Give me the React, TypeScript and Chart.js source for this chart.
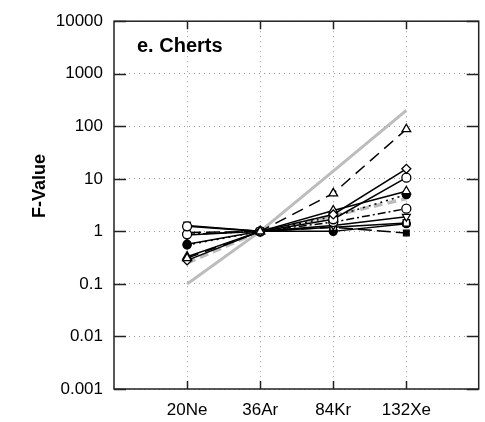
import React, { useEffect, useRef } from 'react';
import { Chart, registerables } from 'chart.js';
Chart.register(...registerables);

const categories = ['20Ne', '36Ar', '84Kr', '132Xe'];
const yTickValues = [0.001, 0.01, 0.1, 1, 10, 100, 1000, 10000];
const yTickLabels = ['0.001', '0.01', '0.1', '1', '10', '100', '1000', '10000'];
const panelLabel = 'e. Cherts';
const yAxisTitle = 'F-Value';

// reference curves (grey)
const refSteep = [0.1, 1, 14, 200];
const refMild = [0.25, 1, 2.0, 4.2];
// samples
const sampleA = [0.31, 1, 5.3, 88];
const sampleB = [0.28, 1, 2.1, 15.5];
const sampleC = [1.25, 1, 1.7, 10.5];
const sampleD = [0.33, 1, 2.5, 5.8];
const sampleE = [0.55, 1, 1.9, 5.0];
const sampleF = [0.88, 1, 1.5, 2.7];
const sampleG = [0.85, 1, 1.3, 1.9];
const sampleH = [1.3, 1, 1.2, 1.45];
const sampleI = [0.95, 1, 1.2, 0.93];
const sampleJ = [0.57, 1, 1.0, 1.4];

const FONT = '"Liberation Sans", Arial, sans-serif';

function pts(vals: number[]) {
  return vals.map((v, i) => ({ x: i + 1, y: v }));
}

function sample(label: string, vals: number[], style: string, filled: boolean, dash: number[] = [], rotation = 0, radius = 4.5) {
  return {
    label,
    data: pts(vals),
    borderColor: '#000',
    borderWidth: 1.5,
    borderDash: dash,
    pointStyle: style,
    pointRotation: rotation,
    pointRadius: radius,
    pointBorderWidth: 1.3,
    pointBorderColor: '#000',
    pointBackgroundColor: filled ? '#000' : '#fff',
    fill: false,
    order: 1,
  };
}

const framePlugin = {
  id: 'frame',
  afterDraw(chart: any) {
    const { ctx, chartArea, scales } = chart;
    const { left, right, top, bottom } = chartArea;
    const x = scales.x;
    const y = scales.y;
    ctx.save();
    ctx.setLineDash([]);
    ctx.strokeStyle = '#222';
    ctx.lineWidth = 1.5;
    ctx.strokeRect(left, top, right - left, bottom - top);
    ctx.beginPath();
    yTickValues.forEach((v) => {
      const py = Math.round(y.getPixelForValue(v)) + 0.5;
      ctx.moveTo(left, py);
      ctx.lineTo(left + 12, py);
      ctx.moveTo(right - 12, py);
      ctx.lineTo(right, py);
    });
    categories.forEach((_, i) => {
      const px = Math.round(x.getPixelForValue(i + 1)) + 0.5;
      ctx.moveTo(px, bottom);
      ctx.lineTo(px, bottom - 8);
      ctx.moveTo(px, top);
      ctx.lineTo(px, top + 8);
    });
    ctx.stroke();
    ctx.fillStyle = '#000';
    ctx.font = 'bold 20px ' + FONT;
    ctx.textAlign = 'left';
    ctx.textBaseline = 'middle';
    ctx.fillText(panelLabel, left + 23, top + 25);
    // y-axis title
    ctx.translate(40, 186);
    ctx.rotate(-Math.PI / 2);
    ctx.font = 'bold 18px ' + FONT;
    ctx.textAlign = 'center';
    ctx.fillText(yAxisTitle, 0, 0);
    ctx.restore();
  },
};

export default function App() {
  const ref = useRef<HTMLCanvasElement>(null);
  useEffect(() => {
    document.body.style.margin = '0';
    const canvas = ref.current!;
    const chart = new Chart(canvas, {
      type: 'line',
      data: {
        datasets: [
          sample('A', sampleA, 'triangle', false, [12, 7], 0, 5),
          sample('B', sampleB, 'rectRot', false, [], 0, 4.5),
          sample('C', sampleC, 'circle', false, [], 0, 4.5),
          sample('D', sampleD, 'triangle', false, [], 0, 5),
          sample('E', sampleE, 'circle', true, [2, 4], 0, 4),
          sample('F', sampleF, 'circle', false, [8, 3, 2, 3], 0, 4.5),
          sample('G', sampleG, 'triangle', false, [], 180, 4.5),
          sample('H', sampleH, 'rect', false, [], 0, 4.5),
          sample('I', sampleI, 'rect', true, [14, 5], 0, 4),
          sample('J', sampleJ, 'circle', true, [], 0, 4),
          {
            label: 'ref1',
            data: pts(refSteep),
            borderColor: '#bcbcbc',
            borderWidth: 3,
            pointRadius: 0,
            fill: false,
            order: 2,
          },
          {
            label: 'ref2',
            data: pts(refMild),
            borderColor: '#bcbcbc',
            borderWidth: 3.5,
            borderDash: [9, 5],
            pointRadius: 0,
            fill: false,
            order: 2,
          },
        ] as any,
      },
      options: {
        animation: false,
        responsive: false,
        events: [],
        layout: { padding: { left: 0, right: 0, top: 17, bottom: 0 } },
        plugins: { legend: { display: false }, tooltip: { enabled: false } },
        scales: {
          x: {
            type: 'linear',
            min: 0,
            max: 4.99,
            afterBuildTicks: (s: any) => {
              s.ticks = categories.map((_, i) => ({ value: i + 1 }));
            },
            afterFit: (s: any) => {
              s.height = 33;
            },
            ticks: {
              autoSkip: false,
              maxRotation: 0,
              padding: 11,
              color: '#000',
              font: { family: FONT, size: 17 },
              callback: (v: any) => categories[Math.round(Number(v)) - 1] ?? '',
            },
            grid: { color: '#9a9a9a', lineWidth: 1, drawTicks: false },
            border: { display: false, dash: [1, 4] },
          },
          y: {
            type: 'logarithmic',
            min: 0.001,
            max: 10000,
            afterBuildTicks: (s: any) => {
              s.ticks = yTickValues.map((v) => ({ value: v }));
            },
            afterFit: (s: any) => {
              s.width = 114;
            },
            ticks: {
              autoSkip: false,
              padding: 11,
              color: '#000',
              font: { family: FONT, size: 17 },
              callback: (v: any) => {
                const i = yTickValues.findIndex((t) => Math.abs(Math.log10(t) - Math.log10(Number(v))) < 1e-6);
                return i >= 0 ? yTickLabels[i] : '';
              },
            },
            grid: { color: '#9a9a9a', lineWidth: 1, drawTicks: false },
            border: { display: false, dash: [1, 4] },
          },
        },
      } as any,
      plugins: [framePlugin],
    });
    return () => chart.destroy();
  }, []);
  return <canvas ref={ref} width={485} height={422} style={{ display: 'block' }} />;
}
